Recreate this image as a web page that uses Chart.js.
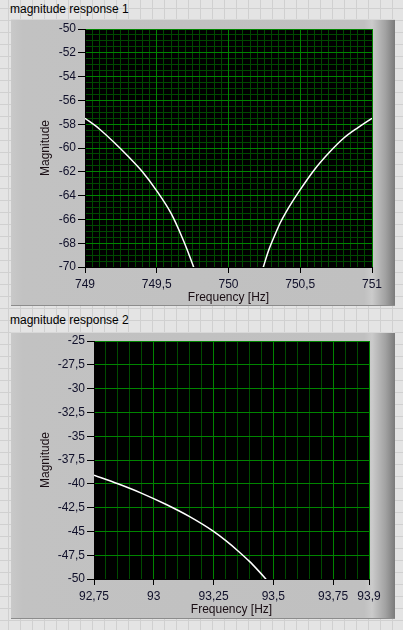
<!DOCTYPE html>
<html>
<head>
<meta charset="utf-8">
<script src="https://cdn.jsdelivr.net/npm/chart.js@4.4.1/dist/chart.umd.min.js"></script>
<style>
  html, body { margin: 0; padding: 0; }
  body {
    width: 403px; height: 630px; position: relative; overflow: hidden;
    background-color: #e4e4e4;
    background-image:
      linear-gradient(to right, #d0d0d0 1px, transparent 1px),
      linear-gradient(to bottom, #d0d0d0 1px, transparent 1px);
    background-size: 12px 12px;
    background-position: 8px 8px;
    font-family: "Liberation Sans", Arial, sans-serif;
  }
  .lbl { position: absolute; left: 10px; font-size: 12px; line-height: 14px; color: #000; }
  .panel {
    position: absolute; left: 11px; width: 384px; height: 287px; box-sizing: border-box;
    background: linear-gradient(to right, #c9c9c9 0, #c2c2c2 3%, #c0c0c0 92%, #cbcbcb 94%, #a2a2a2 97.5%, #7a7a7a 100%);
    border-top: 1px solid #d8d8d8; border-bottom: 1px solid #8c8c8c;
  }
  canvas { position: absolute; left: 0; }
</style>
</head>
<body>
<div class="lbl" style="top:2px">magnitude response 1</div>
<div class="panel" style="top:19px"></div>
<canvas id="chart1" width="403" height="310" style="top:0"></canvas>

<div class="lbl" style="top:313px">magnitude response 2</div>
<div class="panel" style="top:332px"></div>
<canvas id="chart2" width="403" height="310" style="top:312px"></canvas>

<script>
// ── data
const freq1Left = [749.0, 749.1, 749.2, 749.3, 749.4, 749.5, 749.6, 749.68, 749.72, 749.76];
const mag1Left = [-57.5, -58.4, -59.5, -60.7, -62.0, -63.6, -65.5, -67.6, -68.8, -70.1];
const freq1Right = [750.24, 750.28, 750.32, 750.36, 750.4, 750.5, 750.6, 750.7, 750.8, 750.9, 751.0];
const mag1Right = [-70.1, -68.6, -67.4, -66.3, -65.4, -63.5, -61.8, -60.4, -59.2, -58.3, -57.5];

const freq2 = [92.75, 92.85, 92.95, 93.05, 93.15, 93.25, 93.3, 93.35, 93.4, 93.44, 93.465, 93.47];
const mag2 = [-39.1, -40.0, -41.0, -42.15, -43.45, -45.0, -45.95, -47.0, -48.15, -49.2, -49.9, -50.05];

const xTicks2 = [92.75, 93, 93.25, 93.5, 93.75, 93.9];

// ── look
const MAJOR = "#008400";
const MINOR = "#004a00";
const TICK_TXT = "#10102a";
const TITLE_TXT = "#1a0e14";
const FONT = { family: "'Liberation Sans', Arial, sans-serif", size: 12 };

const fmt = (v) => String(+Number(v).toFixed(2)).replace(".", ",");
const pts = (xs, ys) => xs.map((x, i) => ({ x, y: ys[i] }));

const plotBg = {
  id: "plotBg",
  beforeDraw(chart) {
    const { ctx, chartArea: a } = chart;
    ctx.save();
    ctx.fillStyle = "#000";
    ctx.fillRect(a.left, a.top, a.right - a.left, a.bottom - a.top);
    ctx.restore();
  },
};

function lineSet(data) {
  return {
    data,
    borderColor: "#ffffff",
    borderWidth: 1.5,
    pointRadius: 0,
    cubicInterpolationMode: "monotone",
    fill: false,
  };
}

function makeChart(id, cfg) {
  const majorX = {
    type: "linear",
    position: "bottom",
    min: cfg.xMin,
    max: cfg.xMax,
    ticks: {
      color: TICK_TXT, font: FONT, padding: 4, maxRotation: 0, autoSkip: false,
      callback: (v) => fmt(v),
    },
    grid: { color: MAJOR, tickColor: "#000", tickLength: 6 },
    border: { color: "#000" },
    title: {
      display: true, text: "Frequency [Hz]", color: TITLE_TXT, font: FONT,
      padding: { top: 0, bottom: 5 },
    },
    afterFit(s) { s.height = 43; },
  };
  if (cfg.xStep) majorX.ticks.stepSize = cfg.xStep;
  if (cfg.xTicks) majorX.afterBuildTicks = (s) => { s.ticks = cfg.xTicks.map((v) => ({ value: v })); };

  const scales = {
    x: majorX,
    y: {
      type: "linear",
      position: "left",
      min: cfg.yMin,
      max: cfg.yMax,
      ticks: { stepSize: cfg.yStep, color: TICK_TXT, font: FONT, padding: 2, callback: (v) => fmt(v) },
      grid: { color: MAJOR, tickColor: "#000", tickLength: 7 },
      border: { color: "#000" },
      title: {
        display: true, text: "Magnitude", color: TITLE_TXT, font: FONT,
        padding: { top: 38, bottom: 0 },
      },
      afterFit(s) { s.width = cfg.yWidth; },
    },
    // minor grid only, no labels
    xm: {
      type: "linear",
      position: "bottom",
      min: cfg.xMin,
      max: cfg.xMax,
      ticks: { display: false, stepSize: 0.05 },
      grid: { color: MINOR, drawTicks: false, z: -2 },
      border: { display: false },
      afterFit(s) { s.height = 0; },
    },
  };
  if (cfg.yMinorStep) {
    scales.ym = {
      type: "linear",
      position: "left",
      min: cfg.yMin,
      max: cfg.yMax,
      ticks: { display: false, stepSize: cfg.yMinorStep },
      grid: { color: MINOR, drawTicks: false, z: -2 },
      border: { display: false },
      afterFit(s) { s.width = 0; },
    };
  }

  return new Chart(document.getElementById(id).getContext("2d"), {
    type: "line",
    data: { datasets: cfg.datasets },
    options: {
      responsive: false,
      animation: false,
      layout: { padding: { left: 0, right: cfg.padRight, top: 29, bottom: 0 } },
      plugins: { legend: { display: false }, tooltip: { enabled: false } },
      scales,
    },
    plugins: [plotBg],
  });
}

// ── magnitude response 1
makeChart("chart1", {
  xMin: 749, xMax: 751, xStep: 0.5,
  yMin: -70, yMax: -50, yStep: 2, yMinorStep: 0.5,
  yWidth: 85, padRight: 31,
  datasets: [lineSet(pts(freq1Left, mag1Left)), lineSet(pts(freq1Right, mag1Right))],
});

// ── magnitude response 2
makeChart("chart2", {
  xMin: 92.75, xMax: 93.9, xTicks: xTicks2,
  yMin: -50, yMax: -25, yStep: 2.5,
  yWidth: 94, padRight: 34,
  datasets: [lineSet(pts(freq2, mag2))],
});
</script>
</body>
</html>
